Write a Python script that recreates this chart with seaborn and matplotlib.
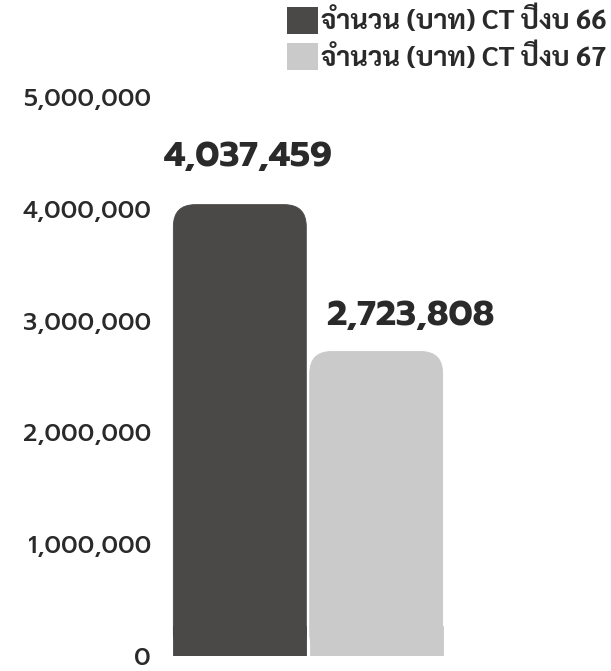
import matplotlib
matplotlib.use("Agg")
import matplotlib.pyplot as plt
import seaborn as sns
import pandas as pd
from matplotlib.patches import FancyBboxPatch
from matplotlib.ticker import FuncFormatter

# data
series = ["จำนวน (บาท) CT ปีงบ 66", "จำนวน (บาท) CT ปีงบ 67"]
amounts = [4037459, 2723808]
y_ticks = [0, 1000000, 2000000, 3000000, 4000000, 5000000]

bar_colors = ["#4a4948", "#cbcaca"]
text_color = "#2a2a2a"

sns.set_style("white")
plt.rcParams["font.family"] = ["Prompt", "DejaVu Sans"]

df = pd.DataFrame({"series": series, "amount": amounts})

fig = plt.figure(figsize=(6.11, 6.71), dpi=100)
# axes: 0 at y=656px, 5M at y=97px (from top)
ax = fig.add_axes([0.2586, 15 / 671, 0.491, 559 / 671])

sns.barplot(data=df, x="series", y="amount", hue="series", palette=bar_colors,
            width=0.975, ax=ax, legend=True, saturation=1, linewidth=0)

ax.set_ylim(0, 5000000)
ax.set_xlim(-0.6, 1.6)
ax.set_yticks(y_ticks)
ax.yaxis.set_major_formatter(FuncFormatter(lambda v, p: f"{int(v):,}"))
ax.tick_params(axis="y", length=0, pad=5, labelsize=17.5, labelcolor=text_color)
for lab in ax.get_yticklabels():
    lab.set_fontweight("medium")
ax.set_xticks([])
ax.set_xlabel("")
ax.set_ylabel("")
sns.despine(ax=ax, left=True, bottom=True)

# rounded tops on the bars: the seaborn bar keeps the square bottom part
px_x = 1 / 136.5            # x data units per pixel
px_y = 5000000 / 559        # y data units per pixel
r = 22 * px_x
aspect = px_y / px_x
for patch, color in zip(ax.patches[:len(amounts)], bar_colors):
    x0, w, h = patch.get_x(), patch.get_width(), patch.get_height()
    top = FancyBboxPatch((x0, 0), w, h, boxstyle=f"round,pad=0,rounding_size={r}",
                         mutation_aspect=aspect, facecolor=color, edgecolor=color,
                         linewidth=0.6, zorder=1)
    ax.add_patch(top)
    patch.set_height(30 * px_y)
    patch.set_edgecolor(color)
    patch.set_linewidth(0.6)
    patch.set_zorder(2)

# value labels
label_dx = [0.06, 0.25]
label_dy = [31, 18]
for i, v in enumerate(amounts):
    ax.annotate(f"{v:,}", (i + label_dx[i], v), xytext=(0, label_dy[i]),
                textcoords="offset pixels", ha="center", va="bottom",
                fontsize=25, fontweight="bold", color=text_color)

leg = ax.legend(loc="upper right", bbox_to_anchor=(0.993, 0.99), bbox_transform=fig.transFigure,
                frameon=False, handlelength=1.15, handleheight=1.15, handletextpad=0.1,
                labelspacing=0.3, borderaxespad=0, borderpad=0,
                prop={"family": ["Sarabun", "DejaVu Sans"], "weight": "bold", "size": 19.5})
for t in leg.get_texts():
    t.set_color(text_color)
for h in leg.legend_handles:
    h.set_linewidth(0)

fig.savefig("out.png", dpi=100, facecolor="white")
